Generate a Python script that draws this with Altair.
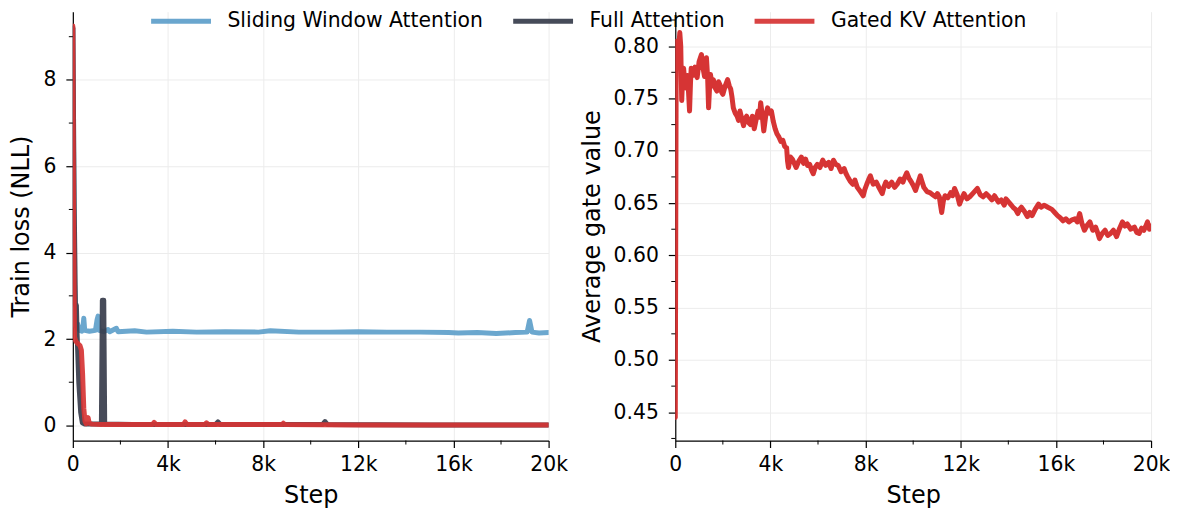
import altair as alt
import pandas as pd

FONT = "DejaVu Sans"

series_names = ["Sliding Window Attention", "Full Attention", "Gated KV Attention"]
series_colors = ["#5e9fca", "#373c4b", "#d63434"]

# ---- Left panel: train loss ----
sw_steps = [0, 60, 120, 200, 280, 380, 430, 460, 500, 700, 950, 1020, 1060, 1110, 1300, 1480, 1550, 1830, 1900, 2600,
            3100, 4200, 5200, 6400, 7800, 8300, 9500, 10800, 12000, 13200, 14600, 15800, 16200, 17000, 17800, 18600,
            19100, 19200, 19300, 19600, 20000]
sw_loss = [9.2, 3.5, 2.3, 2.35, 2.2, 2.18, 2.3, 2.48, 2.2, 2.18, 2.2, 2.45, 2.53, 2.2, 2.17, 2.22, 2.17, 2.25, 2.17, 2.19,
           2.16, 2.18, 2.16, 2.17, 2.16, 2.19, 2.16, 2.16, 2.17, 2.16, 2.16, 2.15, 2.14, 2.15, 2.13, 2.15,
           2.16, 2.43, 2.16, 2.14, 2.15]

full_steps = [0, 60, 110, 150, 180, 250, 330, 400, 500, 800, 1200, 1240, 1270, 1300, 1340, 2500, 6000, 6100, 6200,
              10500, 10600, 10700, 15000, 20000]
full_loss = [9.2, 5.0, 2.78, 2.78, 2.1, 1.0, 0.3, 0.06, 0.03, 0.03, 0.03, 2.9, 2.9, 2.9, 0.03, 0.02, 0.02, 0.08, 0.02,
             0.02, 0.09, 0.02, 0.01, 0.01]

gkv_steps = [0, 30, 70, 120, 200, 300, 360, 410, 460, 510, 560, 600, 640, 690, 800, 1200, 2000, 3350, 3420, 3500,
             4650, 4720, 4800, 5550, 5620, 5700, 8800, 8850, 8900, 12000, 20000]
gkv_loss = [9.25, 5.0, 2.05, 1.95, 1.9, 1.85, 1.74, 1.2, 0.4, 0.1, 0.04, 0.1, 0.18, 0.05, 0.03, 0.02, 0.02, 0.02, 0.07,
            0.02, 0.02, 0.08, 0.02, 0.02, 0.06, 0.02, 0.02, 0.05, 0.02, 0.01, 0.01]

# ---- Right panel: average gate value (steps in thousands) ----
gate_steps_k = [
    0, 0.04, 0.08, 0.12, 0.19, 0.23, 0.27, 0.31, 0.35, 0.40,
    0.45, 0.52, 0.6, 0.64, 0.67, 0.75, 0.83, 0.88, 0.92, 1.0,
    1.1, 1.16, 1.23, 1.27, 1.31, 1.36, 1.4, 1.44, 1.48, 1.55,
    1.6, 1.68, 1.75, 1.82, 1.9, 1.95, 2.0, 2.1, 2.2, 2.27,
    2.33, 2.38, 2.44, 2.52, 2.6, 2.66, 2.72, 2.8, 2.87, 2.94,
    3.0, 3.08, 3.16, 3.24, 3.32, 3.4, 3.48, 3.54, 3.59, 3.65,
    3.72, 3.8, 3.88, 3.96, 4.04, 4.12, 4.2, 4.28, 4.36, 4.44,
    4.52, 4.6, 4.68, 4.72, 4.76, 4.84, 4.92, 5.0, 5.08, 5.19,
    5.3, 5.39, 5.48, 5.56, 5.65, 5.72, 5.8, 5.88, 5.97, 6.08,
    6.2, 6.32, 6.45, 6.55, 6.65, 6.75, 6.85, 6.97, 7.1, 7.18,
    7.25, 7.35, 7.46, 7.55, 7.65, 7.78, 7.9, 7.97, 8.05, 8.12,
    8.2, 8.32, 8.45, 8.58, 8.7, 8.78, 8.85, 8.97, 9.1, 9.22,
    9.33, 9.45, 9.57, 9.65, 9.73, 9.82, 9.9, 10.0, 10.1, 10.2,
    10.3, 10.38, 10.45, 10.58, 10.7, 10.82, 10.94, 11.02, 11.1, 11.15,
    11.2, 11.27, 11.34, 11.46, 11.58, 11.66, 11.74, 11.85, 11.95, 12.05,
    12.14, 12.26, 12.38, 12.54, 12.7, 12.82, 12.94, 13.07, 13.2, 13.31,
    13.42, 13.5, 13.58, 13.7, 13.83, 13.9, 13.98, 14.09, 14.2, 14.3,
    14.4, 14.48, 14.55, 14.68, 14.8, 14.9, 15.0, 15.13, 15.27, 15.38,
    15.5, 15.66, 15.83, 15.95, 16.07, 16.18, 16.3, 16.42, 16.55, 16.68,
    16.8, 16.9, 17.0, 17.1, 17.2, 17.32, 17.43, 17.55, 17.67, 17.75,
    17.83, 17.95, 18.07, 18.18, 18.3, 18.42, 18.55, 18.68, 18.8, 18.9,
    19.0, 19.15, 19.3, 19.4, 19.5, 19.6, 19.7, 19.78, 19.85, 19.93,
    20.0,
]
gate_vals = [
    0.445, 0.800, 0.805, 0.790, 0.813, 0.800, 0.748, 0.770, 0.779, 0.765,
    0.760, 0.772, 0.738, 0.765, 0.779, 0.772, 0.780, 0.772, 0.770, 0.785,
    0.792, 0.780, 0.771, 0.785, 0.789, 0.770, 0.741, 0.760, 0.773, 0.762,
    0.768, 0.760, 0.757, 0.766, 0.762, 0.756, 0.754, 0.762, 0.768, 0.762,
    0.759, 0.752, 0.741, 0.736, 0.733, 0.729, 0.738, 0.730, 0.724, 0.731,
    0.733, 0.727, 0.725, 0.733, 0.721, 0.730, 0.738, 0.732, 0.746, 0.735,
    0.719, 0.733, 0.741, 0.736, 0.738, 0.728, 0.721, 0.716, 0.713, 0.709,
    0.710, 0.704, 0.703, 0.690, 0.684, 0.694, 0.692, 0.688, 0.684, 0.690,
    0.694, 0.688, 0.692, 0.686, 0.687, 0.682, 0.678, 0.684, 0.687, 0.684,
    0.691, 0.686, 0.689, 0.683, 0.691, 0.687, 0.686, 0.680, 0.683, 0.678,
    0.675, 0.671, 0.668, 0.672, 0.665, 0.661, 0.657, 0.663, 0.668, 0.672,
    0.676, 0.668, 0.670, 0.664, 0.659, 0.666, 0.670, 0.666, 0.670, 0.665,
    0.668, 0.673, 0.670, 0.675, 0.679, 0.674, 0.671, 0.667, 0.662, 0.669,
    0.676, 0.670, 0.665, 0.661, 0.660, 0.658, 0.656, 0.659, 0.656, 0.648,
    0.641, 0.652, 0.657, 0.655, 0.660, 0.657, 0.664, 0.658, 0.649, 0.655,
    0.659, 0.654, 0.656, 0.660, 0.664, 0.658, 0.656, 0.659, 0.656, 0.653,
    0.657, 0.654, 0.651, 0.653, 0.648, 0.654, 0.652, 0.649, 0.646, 0.644,
    0.640, 0.644, 0.646, 0.642, 0.637, 0.641, 0.638, 0.644, 0.649, 0.646,
    0.648, 0.646, 0.644, 0.641, 0.638, 0.636, 0.633, 0.635, 0.632, 0.634,
    0.635, 0.632, 0.640, 0.630, 0.624, 0.629, 0.632, 0.624, 0.627, 0.622,
    0.616, 0.621, 0.624, 0.619, 0.621, 0.624, 0.618, 0.626, 0.632, 0.628,
    0.630, 0.625, 0.627, 0.622, 0.621, 0.626, 0.624, 0.628, 0.632, 0.625,
    0.628,
]

x_major = [0, 4000, 8000, 12000, 16000, 20000]
x_minor = [2000, 6000, 10000, 14000, 18000]
loss_major = [0, 2, 4, 6, 8]
loss_minor = [1, 3, 5, 7, 9]
gate_major = [0.45, 0.50, 0.55, 0.60, 0.65, 0.70, 0.75, 0.80]
gate_minor = [0.425, 0.475, 0.525, 0.575, 0.625, 0.675, 0.725, 0.775, 0.825]

W, H = 477, 430
LABEL_SIZE = 20.4

loss_df = pd.concat([
    pd.DataFrame({"step": sw_steps, "value": sw_loss, "series": series_names[0]}),
    pd.DataFrame({"step": full_steps, "value": full_loss, "series": series_names[1]}),
    pd.DataFrame({"step": gkv_steps, "value": gkv_loss, "series": series_names[2]}),
], ignore_index=True)
gate_df = pd.DataFrame({"step": [s * 1000 for s in gate_steps_k], "value": gate_vals, "series": series_names[2]})

color = alt.Color(
    "series:N",
    scale=alt.Scale(domain=series_names, range=series_colors),
    legend=alt.Legend(
        title=None, orient="none", direction="horizontal", legendX=96, legendY=-3,
        symbolType="M-3,0H3", symbolSize=400, symbolStrokeWidth=5, labelFontSize=LABEL_SIZE,
        labelFont=FONT, labelColor="black", labelOffset=34, columnPadding=19, padding=0,
        labelLimit=400,
    ),
)

axis_common = dict(
    labelFont=FONT, labelFontSize=LABEL_SIZE, labelColor="black", titleFont=FONT, titleFontSize=24,
    titleFontWeight="normal", titleColor="black", tickColor="black", tickWidth=1.2, tickSize=7,
    domainColor="black", domainWidth=1.2, gridColor="#ececec", gridWidth=1,
    titlePadding=9, labelFlush=False,
)

x_enc = alt.X(
    "step:Q",
    scale=alt.Scale(domain=[0, 20000], nice=False, zero=False),
    axis=alt.Axis(values=x_major, title="Step", labelPadding=7,
                  labelExpr="datum.value == 0 ? '0' : (datum.value / 1000) + 'k'", **axis_common),
)


def panel(df, y_domain, y_major, y_minor, y_title, y_fmt, series_list, opacity):
    y_enc = alt.Y(
        "value:Q",
        scale=alt.Scale(domain=y_domain, nice=False, zero=False),
        axis=alt.Axis(values=y_major, title=y_title, format=y_fmt, labelPadding=10, **axis_common),
    )
    layers = []
    for s in series_list:
        layers.append(
            alt.Chart(df).transform_filter(alt.datum.series == s)
            .mark_line(strokeWidth=5, strokeJoin="round", strokeCap="round", clip=True, opacity=opacity)
            .encode(x=x_enc, y=y_enc, color=color)
        )
    xminor = alt.Chart(pd.DataFrame({"step": x_minor})).mark_rule(
        color="black", strokeWidth=1, clip=False
    ).encode(x=x_enc, y=alt.value(H), y2=alt.value(H + 4))
    yminor = alt.Chart(pd.DataFrame({"value": y_minor})).mark_rule(
        color="black", strokeWidth=1, clip=False
    ).encode(y=y_enc, x=alt.value(0), x2=alt.value(-4))
    return alt.layer(*layers, xminor, yminor).properties(width=W, height=H)


left = panel(loss_df, [-0.35, 9.58], loss_major, loss_minor, "Train loss (NLL)", "d", series_names, 0.92)
right = panel(gate_df, [0.423, 0.833], gate_major, gate_minor, "Average gate value", ".2f",
              [series_names[2]], 1.0)

chart = (
    alt.hconcat(left, right, spacing=12)
    .resolve_scale(color="shared", x="independent", y="independent")
    .resolve_legend(color="shared")
    .properties(padding={"left": 2, "top": 0, "right": 0, "bottom": 0}, background="white")
    .configure_view(stroke=None)
)

chart.save("out.html", embed_options={"renderer": "svg", "actions": False})
